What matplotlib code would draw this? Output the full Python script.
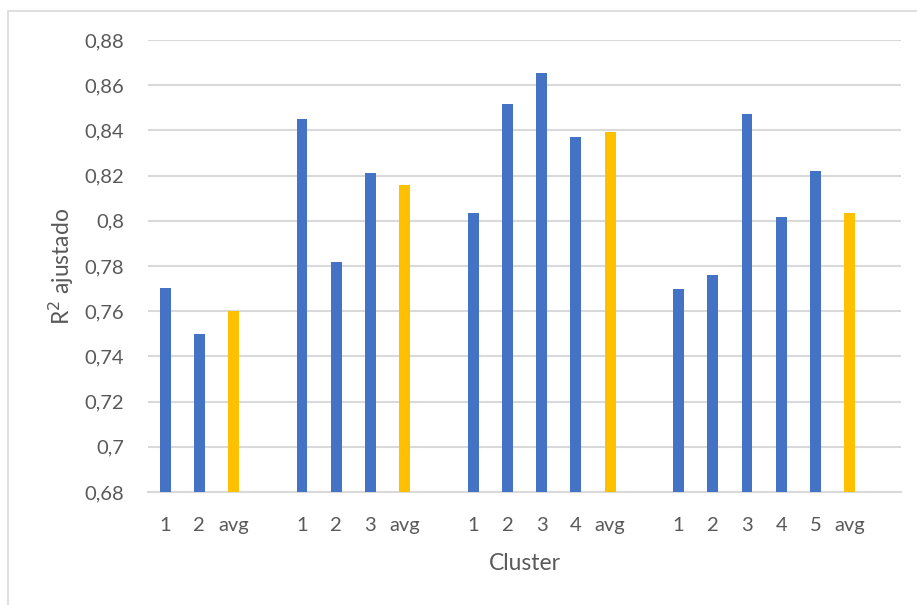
import matplotlib.pyplot as plt
from matplotlib.patches import Rectangle
from matplotlib.ticker import MultipleLocator, FuncFormatter

# R2 ajustado per cluster, one group per clustering run (blank slot between groups)
labels = ['1', '2', 'avg', '',
          '1', '2', '3', 'avg', '',
          '1', '2', '3', '4', 'avg', '',
          '1', '2', '3', '4', '5', 'avg']
values = [0.7702, 0.7500, 0.7601, None,
          0.8449, 0.7818, 0.8213, 0.8160, None,
          0.8034, 0.8517, 0.8656, 0.8371, 0.8395, None,
          0.7700, 0.7760, 0.8471, 0.8018, 0.8222, 0.8034]

blue = '#4472C4'
gold = '#FFC000'
grid = '#d9d9d9'
txt = '#595959'

plt.rcParams['font.family'] = ['Lato', 'DejaVu Sans']

fig = plt.figure(figsize=(9.17, 6.05), dpi=100)
ax = fig.add_axes([148 / 917, 1 - 492 / 605, 753 / 917, 452 / 605])

for i, (lab, v) in enumerate(zip(labels, values)):
    if v is None:
        continue
    ax.bar(i, v - 0.68, bottom=0.68, width=0.32,
           color=gold if lab == 'avg' else blue, zorder=3)

ax.set_xlim(-0.5, len(labels) + 0.5)
ax.set_ylim(0.68, 0.88)
ax.yaxis.set_major_locator(MultipleLocator(0.02))
ax.yaxis.set_major_formatter(
    FuncFormatter(lambda v, p: ('%.2f' % v).rstrip('0').replace('.', ',')))
ax.set_xticks(range(len(labels)))
ax.set_xticklabels(labels)

for s in ['top', 'right', 'left']:
    ax.spines[s].set_visible(False)
ax.spines['bottom'].set_color(grid)
ax.spines['bottom'].set_linewidth(1.5)
ax.yaxis.grid(True, color=grid, linewidth=1.5, zorder=0)
ax.set_axisbelow(True)
ax.tick_params(axis='both', length=0, colors=txt, labelsize=14.5)
ax.tick_params(axis='y', pad=17)
ax.tick_params(axis='x', pad=18)

ax.set_xlabel('Cluster', fontsize=16.5, color=txt, labelpad=14)
ax.set_ylabel('R$^2$ ajustado', fontsize=16.5, color=txt, labelpad=6)

# chart border
fig.patches.append(Rectangle((8 / 917, -0.1), 1.2, (605 - 11) / 605 + 0.1,
                             transform=fig.transFigure, fill=False,
                             edgecolor=grid, linewidth=1.2))

fig.savefig('out.png', dpi=100)
